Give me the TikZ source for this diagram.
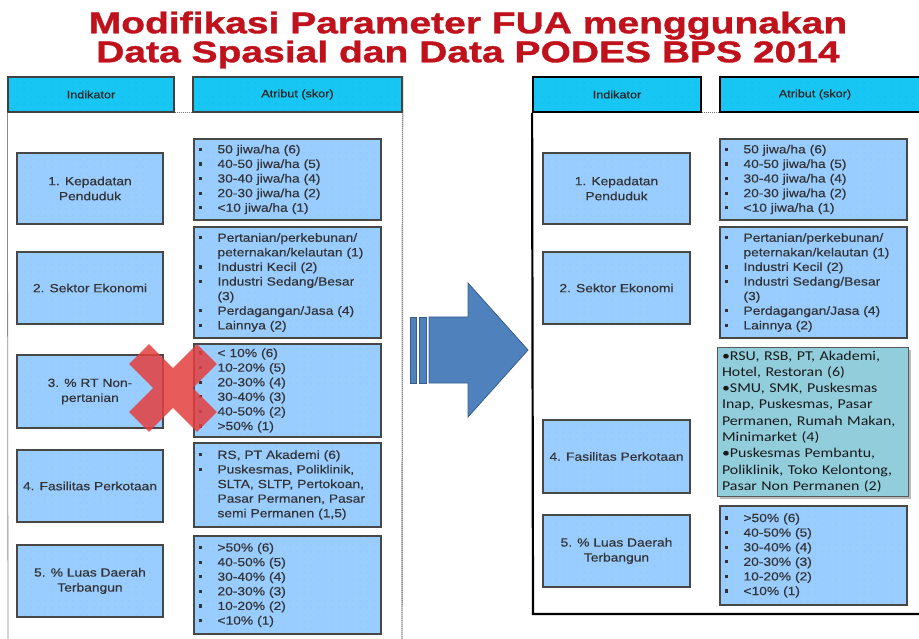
\documentclass[tikz,border=0pt]{standalone}
\usepackage{fontspec}
\setmainfont{Liberation Sans}
\newfontfamily\arialx{Liberation Sans}[FakeStretch=1.17, FakeBold=0.3]
\newfontfamily\titlefont{Liberation Sans}[UprightFont=* Bold, FakeStretch=1.3, FakeBold=1.2]
\newfontfamily\calx{Carlito}[FakeStretch=1.18]
\usetikzlibrary{patterns.meta,shadows}
\definecolor{hdr}{RGB}{23,198,243}
\definecolor{boxblue}{RGB}{153,204,255}
\definecolor{dotblue}{RGB}{128,172,222}
\definecolor{tealbox}{RGB}{146,205,220}
\definecolor{arrowblue}{RGB}{79,129,189}
\definecolor{arrowedge}{RGB}{56,93,138}
\definecolor{xred}{RGB}{228,62,62}
\definecolor{titlered}{RGB}{192,18,28}
\tikzdeclarepattern{
  name=sparsedots,
  type=uncolored,
  bounding box={(0pt,0pt) and (7pt,7pt)},
  tile size={(7pt,7pt)},
  code={\fill (3.5pt,3.5pt) circle (0.45pt);}
}
\newcommand\bitem[1]{\mbox{\makebox[19pt][l]{\rule[2.4pt]{3.2pt}{3.2pt}}#1}}
\newcommand\citem[1]{\mbox{\hspace*{19pt}#1}}
\tikzset{
  hdrbox/.style={preaction={fill=hdr}, pattern=sparsedots, pattern color=hdr!80!black,
    draw=black!75, line width=1.2pt, inner sep=0pt, minimum height=35pt,
    text=black!85, font=\arialx\fontsize{10.8}{12}\selectfont},
  rhdrbox/.style={hdrbox, draw=black, line width=1.8pt},
  indbox/.style={preaction={fill=boxblue}, pattern=sparsedots, pattern color=dotblue,
    draw=black!72, line width=1.2pt, inner sep=0pt, align=center, text=black!80,
    font=\arialx\fontsize{11.8}{15}\selectfont},
  attbox/.style={preaction={fill=boxblue}, pattern=sparsedots, pattern color=dotblue,
    draw=black!72, line width=1.2pt, inner xsep=4.5pt, inner ysep=0pt, align=left,
    text width=178pt, text=black!80, font=\arialx\fontsize{11.8}{14.6}\selectfont},
  newbox/.style={fill=tealbox, draw=black!65, line width=1pt, inner xsep=5pt, inner ysep=0pt,
    align=left, text width=181pt, text=black!90,
    drop shadow={shadow xshift=2.5pt, shadow yshift=-2.5pt, fill=black!55},
    font=\calx\fontsize{13.5}{16.3}\selectfont},
  titletext/.style={font=\titlefont\fontsize{30}{29}\selectfont, text=titlered, align=center, inner sep=0pt},
}
\begin{document}
\begin{tikzpicture}[x=1pt,y=-1pt]
\useasboundingbox (0,0) rectangle (919,639);
\clip (0,0) rectangle (919,639);

% title
\node[titletext] (title) at (468,40) {Modifikasi Parameter FUA menggunakan\\Data Spasial dan Data PODES BPS 2014};

% ---------- left panel ----------
\node[hdrbox, minimum width=166pt] (h1) at (91,94.5) {Indikator};
\node[hdrbox, minimum width=209pt] (h2) at (297.5,94.5) {Atribut (skor)};
\coordinate (lbl) at (8,650);
\coordinate (lbr) at (402,650);
\draw[black!45, line width=0.8pt] (h1.south west) -- (lbl);
\draw[black!70, line width=1.4pt, dash pattern=on 1pt off 1pt] (h2.north east) -- (lbr);
\draw[black!55, line width=1pt, dash pattern=on 1pt off 1pt] (h1.south east) -- (h2.south west);

\node[indbox, minimum width=146pt, minimum height=71pt] (l1) at (90,188.5) {1. Kepadatan\\Penduduk};
\node[indbox, minimum width=146pt, minimum height=72pt] (l2) at (90,288) {2. Sektor Ekonomi};
\node[indbox, minimum width=146pt, minimum height=73pt] (l3) at (90,391.5) {3. \% RT Non-\\pertanian};
\node[indbox, minimum width=146pt, minimum height=72pt] (l4) at (90,486) {4. Fasilitas Perkotaan};
\node[indbox, minimum width=146pt, minimum height=72pt] (l5) at (90,581) {5. \% Luas Daerah\\Terbangun};

\node[attbox, minimum height=81pt] (a1) at (287.5,179.5) {%
\bitem{50 jiwa/ha (6)}\\\bitem{40-50 jiwa/ha (5)}\\\bitem{30-40 jiwa/ha (4)}\\\bitem{20-30 jiwa/ha (2)}\\\bitem{<10 jiwa/ha (1)}};
\node[attbox, minimum height=111pt] (a2) at (287.5,282.5) {%
\bitem{Pertanian/perkebunan/}\\\citem{peternakan/kelautan (1)}\\\bitem{Industri Kecil (2)}\\\bitem{Industri Sedang/Besar}\\\citem{(3)}\\\bitem{Perdagangan/Jasa (4)}\\\bitem{Lainnya (2)}};
\node[attbox, minimum height=93pt] (a3) at (287.5,390.5) {%
\bitem{< 10\% (6)}\\\bitem{10-20\% (5)}\\\bitem{20-30\% (4)}\\\bitem{30-40\% (3)}\\\bitem{40-50\% (2)}\\\bitem{>50\% (1)}};
\node[attbox, minimum height=84pt] (a4) at (287.5,485) {%
\bitem{RS, PT Akademi (6)}\\\bitem{Puskesmas, Poliklinik,}\\\citem{SLTA, SLTP, Pertokoan,}\\\citem{Pasar Permanen, Pasar}\\\citem{semi Permanen (1,5)}};
\node[attbox, minimum height=98pt] (a5) at (287.5,585) {%
\bitem{>50\% (6)}\\\bitem{40-50\% (5)}\\\bitem{30-40\% (4)}\\\bitem{20-30\% (3)}\\\bitem{10-20\% (2)}\\\bitem{<10\% (1)}};

% red cross
\begin{scope}[shift={(173,388)}, rotate=45]
\fill[xred, opacity=0.85] (14,14) -- (14,48) -- (-14,48) -- (-14,14) -- (-48,14) -- (-48,-14)
  -- (-14,-14) -- (-14,-48) -- (14,-48) -- (14,-14) -- (48,-14) -- (48,14) -- cycle;
\end{scope}

% ---------- arrow ----------
\filldraw[fill=arrowblue, draw=arrowedge, line width=0.8pt]
  (429,317) -- (468,317) -- (468,283) -- (528,350) -- (468,417) -- (468,383) -- (429,383) -- cycle;
\filldraw[fill=arrowblue, draw=arrowedge, line width=0.8pt] (410,317) rectangle (416.5,383);
\filldraw[fill=arrowblue, draw=arrowedge, line width=0.8pt] (419,317) rectangle (426.5,383);

% ---------- right panel ----------
\node[rhdrbox, minimum width=168pt] (h3) at (617,94.5) {Indikator};
\node[rhdrbox, minimum width=215pt] (h4) at (827.5,94.5) {Atribut (skor)\hspace*{25pt}};
\coordinate (rbl) at (533,614);
\coordinate (rbr) at (940,614);
\draw[black, line width=2.2pt] (h3.south west) -- (rbl) -- (rbr);
\draw[black!55, line width=1pt, dash pattern=on 1pt off 1pt] (h3.south east) -- (h4.south west);

\node[indbox, minimum width=147pt, minimum height=71pt] (r1) at (616.5,188.5) {1. Kepadatan\\Penduduk};
\node[indbox, minimum width=147pt, minimum height=72pt] (r2) at (616.5,288) {2. Sektor Ekonomi};
\node[indbox, minimum width=147pt, minimum height=73pt] (r4) at (616.5,456.5) {4. Fasilitas Perkotaan};
\node[indbox, minimum width=147pt, minimum height=72pt] (r5) at (616.5,551) {5. \% Luas Daerah\\Terbangun};

\node[attbox, minimum height=81pt] (b1) at (813.5,179.5) {%
\bitem{50 jiwa/ha (6)}\\\bitem{40-50 jiwa/ha (5)}\\\bitem{30-40 jiwa/ha (4)}\\\bitem{20-30 jiwa/ha (2)}\\\bitem{<10 jiwa/ha (1)}};
\node[attbox, minimum height=111pt] (b2) at (813.5,282.5) {%
\bitem{Pertanian/perkebunan/}\\\citem{peternakan/kelautan (1)}\\\bitem{Industri Kecil (2)}\\\bitem{Industri Sedang/Besar}\\\citem{(3)}\\\bitem{Perdagangan/Jasa (4)}\\\bitem{Lainnya (2)}};
\node[newbox, minimum height=149pt] (b4) at (812.5,421.5) {%
\mbox{•RSU, RSB, PT, Akademi,}\\\mbox{Hotel, Restoran (6)}\\\mbox{•SMU, SMK, Puskesmas}\\\mbox{Inap, Puskesmas, Pasar}\\\mbox{Permanen, Rumah Makan,}\\\mbox{Minimarket (4)}\\\mbox{•Puskesmas Pembantu,}\\\mbox{Poliklinik, Toko Kelontong,}\\\mbox{Pasar Non Permanen (2)}};
\node[attbox, minimum height=99pt] (b5) at (813.5,555.5) {%
\bitem{>50\% (6)}\\\bitem{40-50\% (5)}\\\bitem{30-40\% (4)}\\\bitem{20-30\% (3)}\\\bitem{10-20\% (2)}\\\bitem{<10\% (1)}};
\end{tikzpicture}
\end{document}
